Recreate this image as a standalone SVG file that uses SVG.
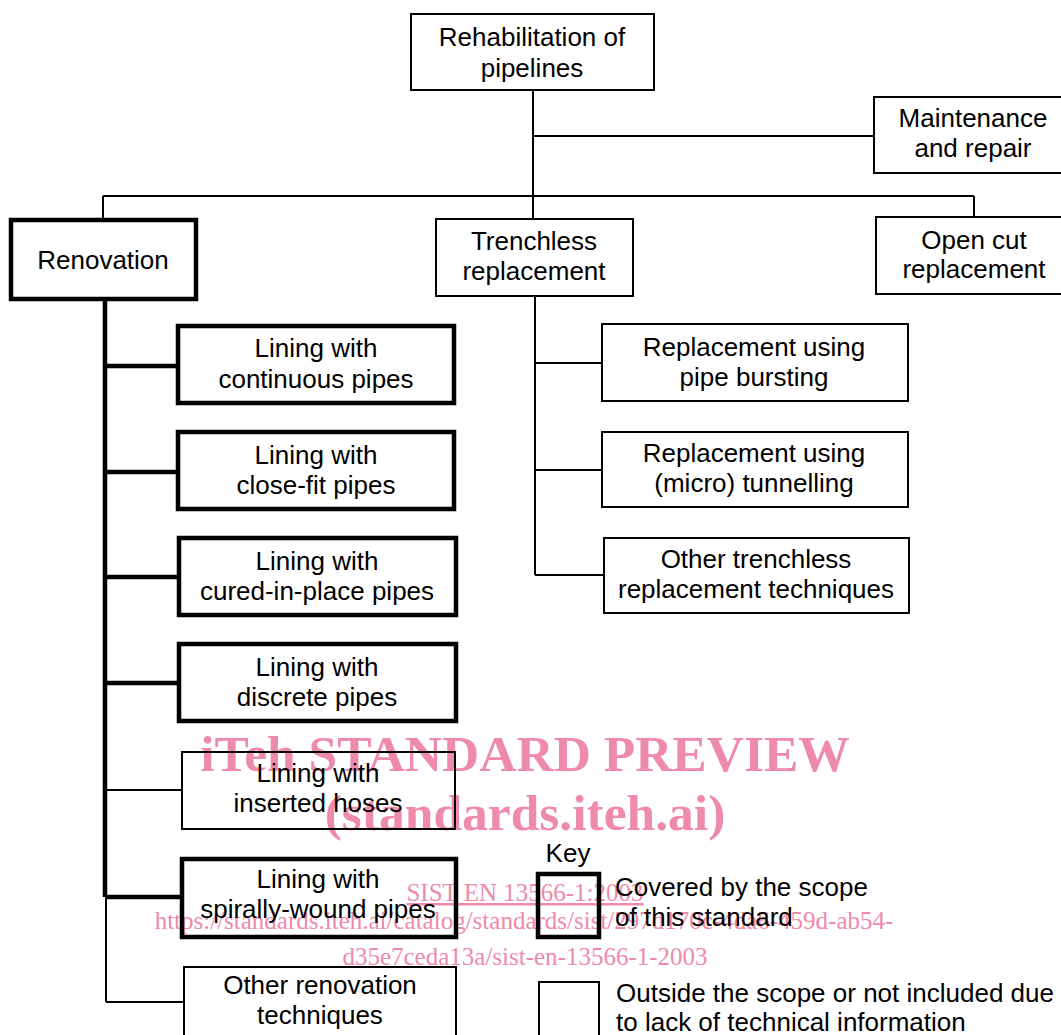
<svg xmlns="http://www.w3.org/2000/svg" width="1061" height="1035" viewBox="0 0 1061 1035">
<style>
.bg{fill:#fff}
.wm{font-family:"Liberation Serif","Times New Roman",serif;fill:#EE8AAA;text-anchor:middle}
.wb{font-weight:bold;font-size:51.5px}
.ws{font-size:25px}
.thin{fill:none;stroke:#000;stroke-width:2}
.thick{fill:none;stroke:#000;stroke-width:4.5}
.t{font-family:"Liberation Sans",Arial,sans-serif;font-size:26px;fill:#000;text-anchor:middle}
.tl{font-family:"Liberation Sans",Arial,sans-serif;font-size:26px;fill:#000}
.c{fill:none;stroke:#000;stroke-width:2}
.ck{fill:none;stroke:#000;stroke-width:4.5}
</style>
<rect class="bg" x="0" y="0" width="1061" height="1035"/>
<g id="watermark">
<text class="wm wb" x="525" y="771">iTeh STANDARD PREVIEW</text>
<text class="wm wb" x="525" y="830">(standards.iteh.ai)</text>
<text class="wm ws" x="525" y="901" text-decoration="underline">SIST EN 13566-1:2003</text>
<text class="wm ws" x="524" y="929">https://standards.iteh.ai/catalog/standards/sist/297d170c-4da6-459d-ab54-</text>
<text class="wm ws" x="525" y="965">d35e7ceda13a/sist-en-13566-1-2003</text>
</g>
<g id="connectors">
<path class="c" d="M533 90V219M533 136H874M103 196H974M103 196V220M974 196V217"/>
<path class="c" d="M535 296V575M535 363H602M535 470H602M535 575H604"/>
<path class="ck" d="M105 299V897M105 366H178M105 472H178M105 577H179M105 683H179M105 897H182"/>
<path class="c" d="M106 897V1002M106 790H182M106 1002H184"/>
</g>
<g id="n-root"><rect class="thin" x="411" y="14" width="243" height="76"/><text class="t" x="532" y="46">Rehabilitation of</text><text class="t" x="532" y="77">pipelines</text></g>
<g id="n-maint"><rect class="thin" x="874" y="97" width="200" height="76"/><text class="t" x="973" y="127">Maintenance</text><text class="t" x="973" y="157">and repair</text></g>
<g id="n-trenchless"><rect class="thin" x="436" y="219" width="197" height="77"/><text class="t" x="534" y="250">Trenchless</text><text class="t" x="534" y="280">replacement</text></g>
<g id="n-opencut"><rect class="thin" x="876" y="217" width="200" height="77"/><text class="t" x="974" y="249">Open cut</text><text class="t" x="974" y="278">replacement</text></g>
<g id="n-renovation"><rect class="thick" x="11" y="220" width="185" height="79"/><text class="t" x="103" y="269">Renovation</text></g>
<g id="n-continuous"><rect class="thick" x="178" y="326" width="276" height="77"/><text class="t" x="316" y="357">Lining with</text><text class="t" x="316" y="388">continuous pipes</text></g>
<g id="n-closefit"><rect class="thick" x="178" y="432" width="276" height="77"/><text class="t" x="316" y="464">Lining with</text><text class="t" x="316" y="494">close-fit pipes</text></g>
<g id="n-cured"><rect class="thick" x="179" y="538" width="277" height="77"/><text class="t" x="317" y="570">Lining with</text><text class="t" x="317" y="600">cured-in-place pipes</text></g>
<g id="n-discrete"><rect class="thick" x="179" y="644" width="277" height="77"/><text class="t" x="317" y="676">Lining with</text><text class="t" x="317" y="706">discrete pipes</text></g>
<g id="n-hoses"><rect class="thin" x="182" y="752" width="273" height="77"/><text class="t" x="318" y="782">Lining with</text><text class="t" x="318" y="812">inserted hoses</text></g>
<g id="n-spiral"><rect class="thick" x="182" y="859" width="274" height="78"/><text class="t" x="318" y="888">Lining with</text><text class="t" x="318" y="918">spirally-wound pipes</text></g>
<g id="n-otherrenov"><rect class="thin" x="184" y="967" width="272" height="80"/><text class="t" x="320" y="994">Other renovation</text><text class="t" x="320" y="1024">techniques</text></g>
<g id="n-bursting"><rect class="thin" x="602" y="324" width="306" height="77"/><text class="t" x="754" y="356">Replacement using</text><text class="t" x="754" y="386">pipe bursting</text></g>
<g id="n-tunnelling"><rect class="thin" x="602" y="432" width="306" height="75"/><text class="t" x="754" y="462">Replacement using</text><text class="t" x="754" y="492">(micro) tunnelling</text></g>
<g id="n-othertrench"><rect class="thin" x="604" y="538" width="305" height="75"/><text class="t" x="756" y="568">Other trenchless</text><text class="t" x="756" y="598">replacement techniques</text></g>
<g id="key">
<text class="t" x="568" y="862">Key</text>
<rect class="thick" x="538" y="874" width="61" height="63"/>
<text class="tl" x="615" y="896">Covered by the scope</text>
<text class="tl" x="615" y="926">of this standard</text>
<rect class="thin" x="539" y="982" width="60" height="70"/>
<text class="tl" x="616" y="1002">Outside the scope or not included due</text>
<text class="tl" x="616" y="1031">to lack of technical information</text>
</g>
</svg>
